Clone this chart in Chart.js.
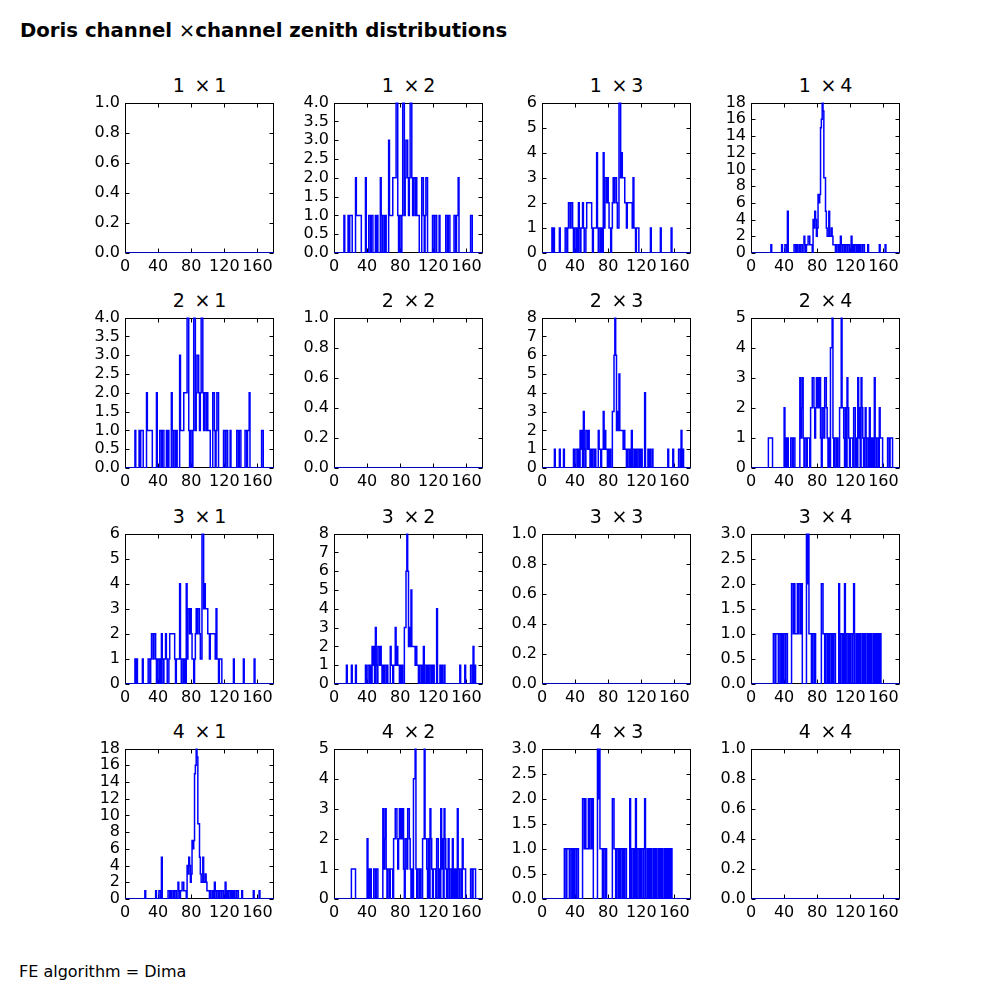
<!DOCTYPE html>
<html>
<head>
<meta charset="utf-8">
<script src="https://cdn.jsdelivr.net/npm/chart.js@4/dist/chart.umd.min.js"></script>
<style>
  body { margin: 0; width: 1000px; height: 1000px; background: #fff; position: relative; overflow: hidden;
         font-family: "DejaVu Sans", sans-serif; color: #000; }
  #sup { position: absolute; left: 20px; top: 21px; font-size: 19.7px; line-height: 20px; font-weight: bold; white-space: pre; }
  #sup .x { font-weight: normal; }
  #foot { position: absolute; left: 19px; top: 964px; font-size: 16px; line-height: 16px; white-space: pre; }
  .ttl { position: absolute; text-align: center; font-size: 19px; line-height: 19px; white-space: pre; }
  .panel { position: absolute; }
</style>
</head>
<body>
<div id="sup">Doris channel <span class="x">×</span>channel zenith distributions</div>
<div id="foot">FE algorithm = Dima</div>
<script>
// zenith histograms, 1 degree bins 0..180, only non-empty bins listed as [deg, count]
// channel i x channel j is the same as j x i
const h12 = [[12,1],[17,1],[19,1],[20,1],[21,1],
  [26,2],[27,1],[28,1],[29,1],[30,1],[31,1],[32,1],
  [38,2],[42,1],[43,1],[45,1],[46,1],
  [50,1],[52,1],[56,2],[57,1],[59,1],[60,1],[62,1],
  [66,3],[67,1],[68,1],[69,1],[70,1],[71,2],[72,2],[73,2],[74,2],[75,4],[76,4],
  [77,1],[79,1],[80,1],[82,1],[83,4],[84,4],[85,1],[86,2],[87,3],[88,3],[89,2],[90,1],[91,2],[92,4],[93,4],
  [94,2],[95,1],[96,2],[97,2],[98,1],[99,2],[100,1],[101,1],[102,1],
  [106,2],[107,2],[108,1],[110,1],[111,2],[112,2],
  [119,1],[120,1],[122,1],[123,1],[127,1],
  [135,1],[136,1],[138,1],[139,1],
  [145,1],[146,1],[148,1],[149,1],[150,2],
  [165,1],[166,1]];

const h13 = [[12,1],[14,1],[21,1],
  [28,1],[29,1],[31,1],[32,2],[33,2],[34,1],[35,2],[36,2],
  [37,1],[39,1],[40,1],[42,1],[44,2],[45,1],[47,1],[48,1],[49,2],[50,1],
  [53,1],[54,2],[55,2],[56,2],[57,2],[58,2],[59,2],[60,1],[62,1],[63,1],[64,1],[65,1],
  [66,4],[67,1],[69,1],[70,1],[72,1],[74,4],[75,1],[76,3],[77,3],[78,2],[79,3],[80,2],
  [81,1],[82,1],[84,1],[85,2],[86,3],[87,2],[88,3],[89,3],[90,2],[91,1],[92,1],
  [93,6],[94,6],[95,3],[96,4],[97,3],[98,3],[99,3],[100,2],[101,2],[102,1],[103,2],
  [104,2],[105,2],[106,2],[107,2],[108,2],[109,1],[110,3],[111,1],[112,1],[114,1],[115,1],[116,1],
  [131,1],[143,1],[156,1]];

const h14 = [[24,1],[37,1],[41,1],[42,1],[44,5],
  [52,1],[53,1],[55,1],[58,1],[60,1],[61,1],
  [64,2],[65,1],[67,1],[68,1],[69,2],[70,2],[71,1],[72,1],[73,1],
  [75,4],[76,3],[77,5],[78,4],[79,2],[80,3],[81,7],[82,6],[83,7],[84,15],[85,16],[86,18],[87,17],[88,9],[89,9],
  [90,5],[91,3],[92,2],[93,2],[94,5],[95,2],[96,2],[97,3],[98,2],[99,1],[100,1],[101,1],[103,1],
  [106,1],[108,2],[109,1],[111,1],[112,1],[114,1],[115,1],[117,1],[118,1],[121,2],
  [123,1],[125,1],[126,1],[128,1],[130,1],[132,1],[135,1],[136,1],[141,1],[155,1],[162,1]];

const h23 = [[15,1],[21,1],[26,1],
  [38,1],[41,1],[42,1],[44,1],[46,2],[47,1],[48,2],[50,3],[51,1],[53,2],[54,2],[55,1],[56,2],[57,1],[59,1],
  [61,1],[62,1],[64,1],[68,2],[69,1],[70,1],[72,1],[73,1],[74,3],[75,1],[76,2],[77,1],[78,1],[80,1],[82,1],
  [85,3],[86,3],[87,6],[88,8],[89,6],[90,2],[91,3],[92,2],[93,5],[94,2],[95,2],[96,2],[97,2],[98,1],[99,2],
  [100,1],[101,1],[103,1],[104,1],[106,1],[108,2],[110,1],[111,1],[113,1],[115,1],[116,1],[118,1],[120,1],
  [124,4],[128,1],[130,1],[133,1],
  [152,1],[158,1],[165,1],[166,1],[168,2],[170,1]];

const h24 = [[21,1],[22,1],[23,1],[24,1],[25,1],
  [40,2],[42,1],[44,1],[48,1],[49,1],[51,1],[52,1],
  [59,3],[60,1],[61,2],[62,3],[63,1],[65,1],[66,1],[68,1],[69,1],[70,1],
  [72,2],[73,2],[74,3],[75,3],[76,2],[77,1],[78,2],[79,3],[80,2],[81,3],[82,2],[83,3],[84,1],
  [86,2],[87,2],[88,1],[89,3],[90,3],[91,2],[92,1],[94,1],[96,4],[97,4],[98,5],[99,1],[101,1],[102,1],[104,1],
  [107,2],[108,2],[109,5],[110,2],[111,2],[112,1],[114,2],[116,3],[117,2],[118,1],[120,1],[121,1],[122,1],[124,2],[125,2],
  [127,1],[129,3],[130,1],[131,2],[133,3],[134,2],[135,1],[137,1],[138,2],[140,1],[141,1],
  [143,2],[145,1],[147,1],[149,3],[150,1],[152,1],[153,1],[155,2],[156,1],[157,1],[158,1],
  [165,1],[166,1],[168,1],[169,1],[170,1]];

const h34 = [[27,1],[28,1],[30,1],[31,1],[32,1],[34,1],[35,1],[37,1],[39,1],[40,1],[42,1],[43,1],
  [49,2],[50,2],[51,1],[52,2],[53,1],[54,1],[55,1],[56,2],[57,1],[58,2],[59,2],[60,1],[61,2],
  [67,3],[68,2],[69,3],[70,1],[71,1],[72,1],[74,1],[75,1],[77,1],
  [85,2],[86,2],[87,1],[88,1],[90,1],[91,1],[93,1],[95,1],[96,1],[98,1],[100,1],[101,1],
  [106,2],[108,1],[109,1],[111,1],[113,2],[115,1],[116,1],[118,1],[120,1],[121,1],[123,1],[124,2],
  [127,1],[129,1],[131,1],[134,1],[136,1],[138,1],[141,1],[143,1],[145,1],[148,1],[150,1],[152,1],[154,1],[156,1]];

const xTicks = ['0', '40', '80', '120', '160'];
const yTicksDiag = ['0.0', '0.2', '0.4', '0.6', '0.8', '1.0'];
const yTicks12 = ['0.0', '0.5', '1.0', '1.5', '2.0', '2.5', '3.0', '3.5', '4.0'];
const yTicks13 = ['0', '1', '2', '3', '4', '5', '6'];
const yTicks14 = ['0', '2', '4', '6', '8', '10', '12', '14', '16', '18'];
const yTicks23 = ['0', '1', '2', '3', '4', '5', '6', '7', '8'];
const yTicks24 = ['0', '1', '2', '3', '4', '5'];
const yTicks34 = ['0.0', '0.5', '1.0', '1.5', '2.0', '2.5', '3.0'];

const NBINS = 180;
const XMAX = 180;

const pairs = {
  '12': [h12, yTicks12], '13': [h13, yTicks13], '14': [h14, yTicks14],
  '23': [h23, yTicks23], '24': [h24, yTicks24], '34': [h34, yTicks34]
};

// step outline like histtype='step'
function stepPoints(hist) {
  const counts = new Array(NBINS).fill(0);
  hist.forEach(([d, n]) => { counts[d] = n; });
  const pts = [{ x: 0, y: 0 }];
  counts.forEach((n, i) => pts.push({ x: i * XMAX / NBINS, y: n }));
  pts.push({ x: XMAX, y: 0 });
  return pts;
}

// black box + inward ticks on all four sides
const frame = {
  id: 'frame',
  beforeDatasetsDraw(chart) {
    const { ctx, chartArea: a, scales: { x, y } } = chart;
    const L = Math.round(a.left) + 0.5, R = Math.round(a.right) - 0.5;
    const T = Math.round(a.top) + 0.5, B = Math.round(a.bottom) - 0.5;
    ctx.save();
    ctx.strokeStyle = '#000';
    ctx.lineWidth = 1;
    ctx.strokeRect(L, T, R - L, B - T);
    ctx.beginPath();
    x.ticks.forEach(t => {
      const px = Math.round(x.getPixelForValue(t.value)) + 0.5;
      ctx.moveTo(px, B); ctx.lineTo(px, B - 4);
      ctx.moveTo(px, T); ctx.lineTo(px, T + 4);
    });
    y.ticks.forEach(t => {
      const py = Math.round(y.getPixelForValue(t.value)) + 0.5;
      ctx.moveTo(L, py); ctx.lineTo(L + 4, py);
      ctx.moveTo(R, py); ctx.lineTo(R - 4, py);
    });
    ctx.stroke();
    ctx.restore();
  }
};

const W = 149, H = 153;
const PADL = 70, PADT = 12, PADR = 20, PADB = 35;
const font = { family: 'DejaVu Sans', size: 16 };

for (let r = 0; r < 4; r++) {
  for (let c = 0; c < 4; c++) {
    const left = Math.round(125 + c * 208.7);
    const top = Math.round(100 + r * 215.4);

    const k = '' + (Math.min(r, c) + 1) + (Math.max(r, c) + 1);
    const [hist, yLabels] = r === c ? [[], yTicksDiag] : pairs[k];
    const yVals = yLabels.map(Number);

    const ttl = document.createElement('div');
    ttl.className = 'ttl';
    ttl.style.left = left + 'px';
    ttl.style.width = W + 'px';
    ttl.style.top = (top - 24.4) + 'px';
    ttl.textContent = (r + 1) + ' \u2009\u00d7\u2009' + (c + 1);
    document.body.appendChild(ttl);

    const box = document.createElement('div');
    box.className = 'panel';
    box.style.left = (left - PADL) + 'px';
    box.style.top = (top - PADT) + 'px';
    const cv = document.createElement('canvas');
    const cw = W + PADL + PADR, ch = H + PADT + PADB;
    cv.width = cw; cv.height = ch;
    cv.style.width = cw + 'px'; cv.style.height = ch + 'px';
    box.appendChild(cv);
    document.body.appendChild(box);

    new Chart(cv, {
      type: 'line',
      data: {
        datasets: [{
          data: stepPoints(hist),
          borderColor: '#0000ff',
          borderWidth: 1.5,
          pointRadius: 0,
          stepped: true,
          fill: false,
          tension: 0
        }]
      },
      options: {
        responsive: false,
        animation: false,
        layout: { padding: { left: 0, top: PADT, right: PADR, bottom: 0 } },
        plugins: { legend: { display: false }, tooltip: { enabled: false } },
        scales: {
          x: {
            type: 'linear', min: 0, max: XMAX,
            grid: { display: false, drawTicks: false },
            border: { display: false },
            afterBuildTicks: s => { s.ticks = xTicks.map(v => ({ value: Number(v) })); },
            afterFit: s => { s.height = PADB; },
            ticks: { font, color: '#000', padding: 4, maxRotation: 0, autoSkip: false,
                     callback: (v, i) => xTicks[i] }
          },
          y: {
            min: 0, max: yVals[yVals.length - 1],
            grid: { display: false, drawTicks: false },
            border: { display: false },
            afterBuildTicks: s => { s.ticks = yVals.map(v => ({ value: v })); },
            afterFit: s => { s.width = PADL; },
            ticks: { font, color: '#000', padding: 5, autoSkip: false,
                     callback: (v, i) => yLabels[i] }
          }
        }
      },
      plugins: [frame]
    });
  }
}
</script>
</body>
</html>
